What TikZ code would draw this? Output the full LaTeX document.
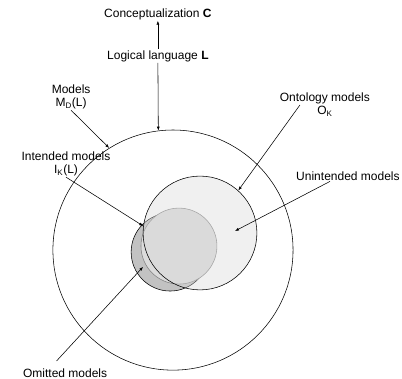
\documentclass[tikz,border=0pt]{standalone}
\usepackage{fontspec}
\setmainfont{Liberation Sans}
\usetikzlibrary{arrows.meta, positioning, calc}

\begin{document}
\begin{tikzpicture}[
    textlabel/.style={align=center, font=\fontsize{12}{13}\selectfont, inner sep=1pt},
    modelset/.style={circle, draw, inner sep=0pt, line width=0.55pt},
    pointer/.style={-{Latex[length=4pt,width=3pt]}, line width=0.55pt}
]
    \useasboundingbox (0,0) rectangle (14.13,13.32);

    % Sets of models
    \node[modelset, minimum size=8.44cm] (outer) at (6.08, 4.53) {};
    \node[modelset, fill=black!24, minimum size=2.74cm] (omit) at (5.98, 4.46) {};
    \node[modelset, draw=black!50, fill=black!14, minimum size=2.67cm] (intend) at (6.29, 4.67) {};
    \node[modelset, fill=black!15, fill opacity=0.4, minimum size=4.0cm] (onto) at (7.03, 5.13) {};

    % Labels
    \node[textlabel] (concept) at (5.55, 12.83) {Conceptualization \textbf{C}};
    \node[textlabel] (logic) at (5.55, 11.35) {Logical language \textbf{L}};
    \node[textlabel] (models) at (2.50, 9.91) {Models\\M\textsubscript{D}(L)};
    \node[textlabel] (intended) at (2.32, 7.56) {Intended models\\I\textsubscript{K}(L)};
    \node[textlabel] (ontology) at (11.42, 9.63) {Ontology models\\O\textsubscript{K}};
    \node[textlabel] (unint) at (12.23, 7.14) {Unintended models};
    \node[textlabel, anchor=base west] (omitted) at (0.77, 0.05) {Omitted models};

    \coordinate (unint-tip) at (8.26, 5.20);
    \coordinate (omit-tip) at (5.03, 3.94);

    % Pointers
    \draw[pointer] (logic.north) -- (concept.south);
    \draw[pointer] (logic.south) -- (outer.97);
    \draw[pointer] (models.south) -- (outer.122);
    \draw[pointer] (intended.south) -- (onto.173);
    \draw[pointer] ($(ontology.west)!0.23!(ontology.east)$) -- (onto.48);
    \draw[pointer] ($(unint.south west)!0.33!(unint.south east)$) -- (unint-tip);
    \draw[pointer, shorten <=9pt] ($(omitted.north west)!0.33!(omitted.north east)$) -- (omit-tip);
\end{tikzpicture}
\end{document}
